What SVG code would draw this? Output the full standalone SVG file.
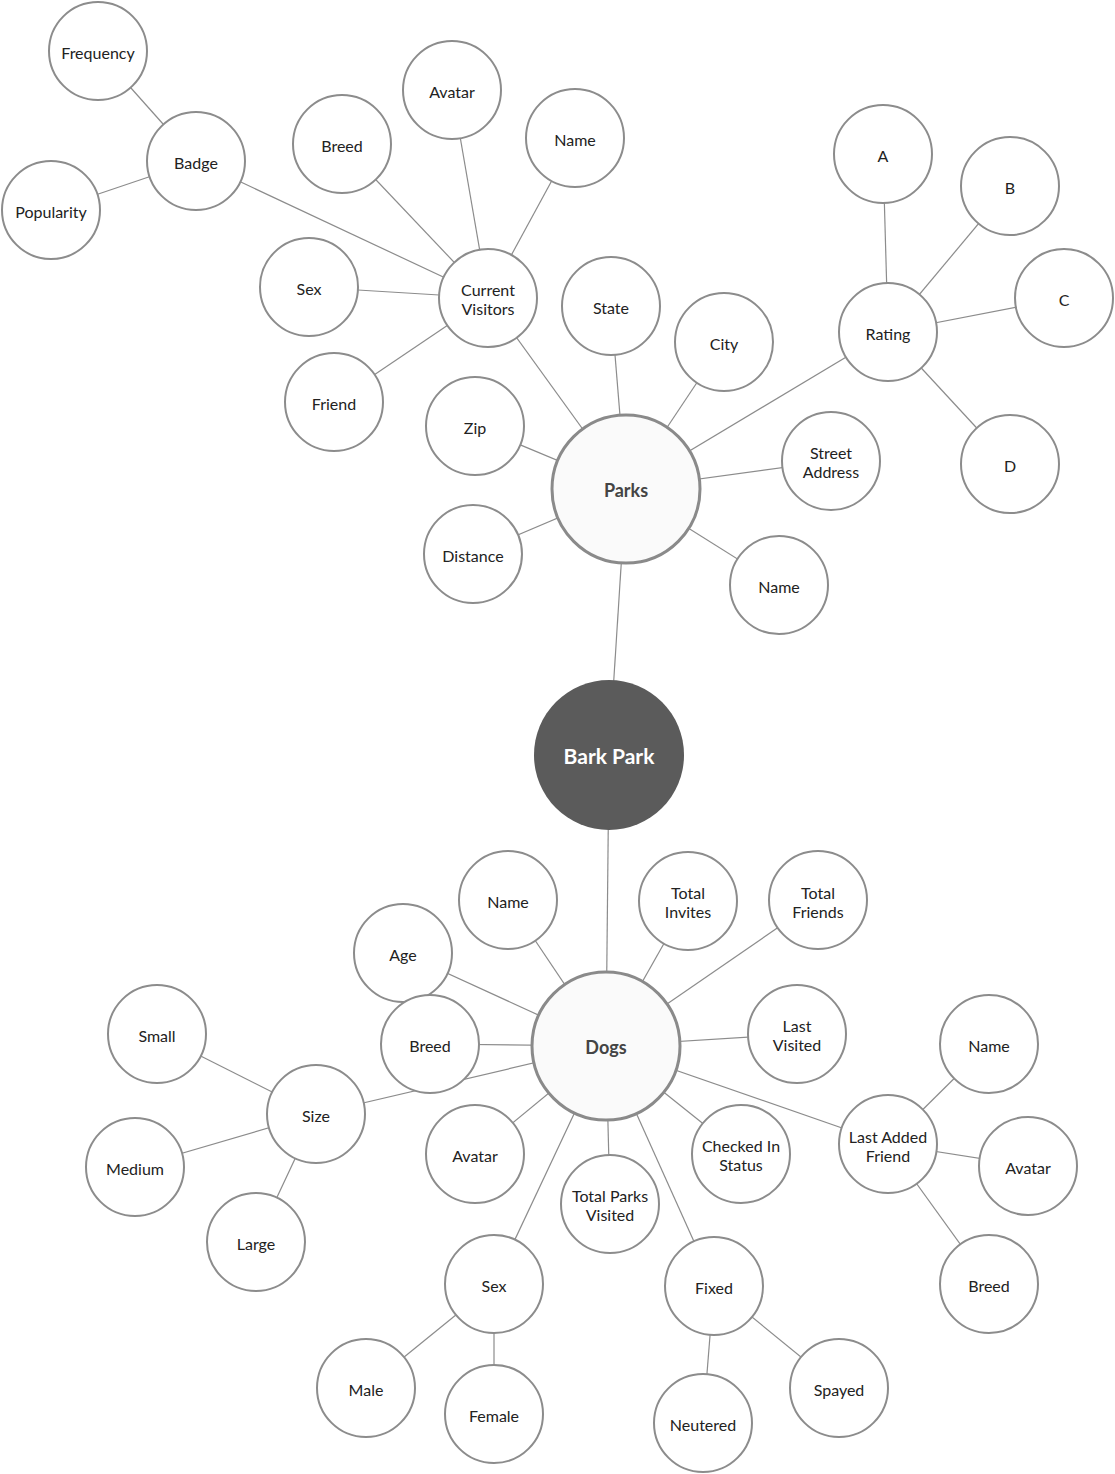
<svg xmlns="http://www.w3.org/2000/svg" width="1115" height="1474" viewBox="0 0 1115 1474">
<style>
.e line{stroke:#8c8c8c;stroke-width:1.2}
.n circle{fill:#fff;stroke:#8c8c8c;stroke-width:2}
.n text{font-family:Lato,"Liberation Sans",sans-serif;font-size:16px;fill:#222;text-anchor:middle;dominant-baseline:central}
.hub circle{fill:#fafafa;stroke:#8a8a8a;stroke-width:3}
.hub text{font-family:Lato,"Liberation Sans",sans-serif;font-size:18px;font-weight:bold;fill:#444;text-anchor:middle;dominant-baseline:central}
.root circle{fill:#5b5b5b;stroke:none}
.root text{font-family:Lato,"Liberation Sans",sans-serif;font-size:21px;font-weight:bold;fill:#fff;text-anchor:middle;dominant-baseline:central}
</style>
<rect width="1115" height="1474" fill="#fff"/>
<g class="e" id="connectors">
<line x1="98" y1="51" x2="196" y2="161"/>
<line x1="51" y1="210" x2="196" y2="161"/>
<line x1="196" y1="161" x2="488" y2="298"/>
<line x1="342" y1="144" x2="488" y2="298"/>
<line x1="452" y1="90" x2="488" y2="298"/>
<line x1="575" y1="138" x2="488" y2="298"/>
<line x1="309" y1="287" x2="488" y2="298"/>
<line x1="334" y1="402" x2="488" y2="298"/>
<line x1="488" y1="298" x2="626" y2="489"/>
<line x1="475" y1="426" x2="626" y2="489"/>
<line x1="611" y1="306" x2="626" y2="489"/>
<line x1="724" y1="342" x2="626" y2="489"/>
<line x1="473" y1="554" x2="626" y2="489"/>
<line x1="831" y1="461" x2="626" y2="489"/>
<line x1="779" y1="585" x2="626" y2="489"/>
<line x1="888" y1="332" x2="626" y2="489"/>
<line x1="883" y1="154" x2="888" y2="332"/>
<line x1="1010" y1="186" x2="888" y2="332"/>
<line x1="1064" y1="298" x2="888" y2="332"/>
<line x1="1010" y1="464" x2="888" y2="332"/>
<line x1="626" y1="489" x2="609" y2="755"/>
<line x1="609" y1="755" x2="606" y2="1046"/>
<line x1="508" y1="900" x2="606" y2="1046"/>
<line x1="688" y1="901" x2="606" y2="1046"/>
<line x1="818" y1="900" x2="606" y2="1046"/>
<line x1="403" y1="953" x2="606" y2="1046"/>
<line x1="430" y1="1044" x2="606" y2="1046"/>
<line x1="316" y1="1114" x2="606" y2="1046"/>
<line x1="797" y1="1034" x2="606" y2="1046"/>
<line x1="475" y1="1154" x2="606" y2="1046"/>
<line x1="610" y1="1204" x2="606" y2="1046"/>
<line x1="741" y1="1154" x2="606" y2="1046"/>
<line x1="888" y1="1144" x2="606" y2="1046"/>
<line x1="494" y1="1284" x2="606" y2="1046"/>
<line x1="714" y1="1286" x2="606" y2="1046"/>
<line x1="157" y1="1034" x2="316" y2="1114"/>
<line x1="135" y1="1167" x2="316" y2="1114"/>
<line x1="256" y1="1242" x2="316" y2="1114"/>
<line x1="989" y1="1044" x2="888" y2="1144"/>
<line x1="1028" y1="1166" x2="888" y2="1144"/>
<line x1="989" y1="1284" x2="888" y2="1144"/>
<line x1="366" y1="1388" x2="494" y2="1284"/>
<line x1="494" y1="1414" x2="494" y2="1284"/>
<line x1="703" y1="1423" x2="714" y2="1286"/>
<line x1="839" y1="1388" x2="714" y2="1286"/>
</g>
<g id="frequency" class="n"><circle cx="98" cy="51" r="49"/><text x="98" y="52">Frequency</text></g>
<g id="badge" class="n"><circle cx="196" cy="161" r="49"/><text x="196" y="162">Badge</text></g>
<g id="popularity" class="n"><circle cx="51" cy="210" r="49"/><text x="51" y="211">Popularity</text></g>
<g id="visitor-breed" class="n"><circle cx="342" cy="144" r="49"/><text x="342" y="145">Breed</text></g>
<g id="visitor-avatar" class="n"><circle cx="452" cy="90" r="49"/><text x="452" y="91">Avatar</text></g>
<g id="visitor-name" class="n"><circle cx="575" cy="138" r="49"/><text x="575" y="139">Name</text></g>
<g id="visitor-sex" class="n"><circle cx="309" cy="287" r="49"/><text x="309" y="288">Sex</text></g>
<g id="current-visitors" class="n"><circle cx="488" cy="298" r="49"/><text x="488" y="289">Current</text><text x="488" y="308">Visitors</text></g>
<g id="friend" class="n"><circle cx="334" cy="402" r="49"/><text x="334" y="403">Friend</text></g>
<g id="zip" class="n"><circle cx="475" cy="426" r="49"/><text x="475" y="427">Zip</text></g>
<g id="state" class="n"><circle cx="611" cy="306" r="49"/><text x="611" y="307">State</text></g>
<g id="city" class="n"><circle cx="724" cy="342" r="49"/><text x="724" y="343">City</text></g>
<g id="distance" class="n"><circle cx="473" cy="554" r="49"/><text x="473" y="555">Distance</text></g>
<g id="street-address" class="n"><circle cx="831" cy="461" r="49"/><text x="831" y="452">Street</text><text x="831" y="471">Address</text></g>
<g id="park-name" class="n"><circle cx="779" cy="585" r="49"/><text x="779" y="586">Name</text></g>
<g id="a" class="n"><circle cx="883" cy="154" r="49"/><text x="883" y="155">A</text></g>
<g id="b" class="n"><circle cx="1010" cy="186" r="49"/><text x="1010" y="187">B</text></g>
<g id="c" class="n"><circle cx="1064" cy="298" r="49"/><text x="1064" y="299">C</text></g>
<g id="rating" class="n"><circle cx="888" cy="332" r="49"/><text x="888" y="333">Rating</text></g>
<g id="d" class="n"><circle cx="1010" cy="464" r="49"/><text x="1010" y="465">D</text></g>
<g id="parks" class="hub"><circle cx="626" cy="489" r="74"/><text x="626" y="490">Parks</text></g>
<g id="bark-park" class="root"><circle cx="609" cy="755" r="75"/><text x="609" y="755">Bark Park</text></g>
<g id="dog-name" class="n"><circle cx="508" cy="900" r="49"/><text x="508" y="901">Name</text></g>
<g id="total-invites" class="n"><circle cx="688" cy="901" r="49"/><text x="688" y="892">Total</text><text x="688" y="911">Invites</text></g>
<g id="total-friends" class="n"><circle cx="818" cy="900" r="49"/><text x="818" y="892">Total</text><text x="818" y="911">Friends</text></g>
<g id="age" class="n"><circle cx="403" cy="953" r="49"/><text x="403" y="954">Age</text></g>
<g id="dog-breed" class="n"><circle cx="430" cy="1044" r="49"/><text x="430" y="1045">Breed</text></g>
<g id="last-visited" class="n"><circle cx="797" cy="1034" r="49"/><text x="797" y="1025">Last</text><text x="797" y="1044">Visited</text></g>
<g id="small" class="n"><circle cx="157" cy="1034" r="49"/><text x="157" y="1035">Small</text></g>
<g id="size" class="n"><circle cx="316" cy="1114" r="49"/><text x="316" y="1115">Size</text></g>
<g id="medium" class="n"><circle cx="135" cy="1167" r="49"/><text x="135" y="1168">Medium</text></g>
<g id="large" class="n"><circle cx="256" cy="1242" r="49"/><text x="256" y="1243">Large</text></g>
<g id="dog-avatar" class="n"><circle cx="475" cy="1154" r="49"/><text x="475" y="1155">Avatar</text></g>
<g id="total-parks-visited" class="n"><circle cx="610" cy="1204" r="49"/><text x="610" y="1195">Total Parks</text><text x="610" y="1214">Visited</text></g>
<g id="checked-in-status" class="n"><circle cx="741" cy="1154" r="49"/><text x="741" y="1145">Checked In</text><text x="741" y="1164">Status</text></g>
<g id="last-added-friend" class="n"><circle cx="888" cy="1144" r="49"/><text x="888" y="1136">Last Added</text><text x="888" y="1155">Friend</text></g>
<g id="laf-name" class="n"><circle cx="989" cy="1044" r="49"/><text x="989" y="1045">Name</text></g>
<g id="laf-avatar" class="n"><circle cx="1028" cy="1166" r="49"/><text x="1028" y="1167">Avatar</text></g>
<g id="laf-breed" class="n"><circle cx="989" cy="1284" r="49"/><text x="989" y="1285">Breed</text></g>
<g id="dog-sex" class="n"><circle cx="494" cy="1284" r="49"/><text x="494" y="1285">Sex</text></g>
<g id="fixed" class="n"><circle cx="714" cy="1286" r="49"/><text x="714" y="1287">Fixed</text></g>
<g id="male" class="n"><circle cx="366" cy="1388" r="49"/><text x="366" y="1389">Male</text></g>
<g id="female" class="n"><circle cx="494" cy="1414" r="49"/><text x="494" y="1415">Female</text></g>
<g id="neutered" class="n"><circle cx="703" cy="1423" r="49"/><text x="703" y="1424">Neutered</text></g>
<g id="spayed" class="n"><circle cx="839" cy="1388" r="49"/><text x="839" y="1389">Spayed</text></g>
<g id="dogs" class="hub"><circle cx="606" cy="1046" r="74"/><text x="606" y="1047">Dogs</text></g>
</svg>
